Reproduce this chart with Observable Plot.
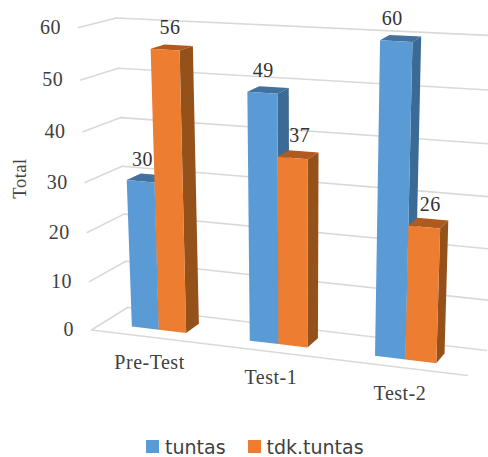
<!DOCTYPE html>
<html>
<head>
<meta charset="utf-8">
<script src="https://cdn.jsdelivr.net/npm/d3@7"></script>
<script src="https://cdn.jsdelivr.net/npm/@observablehq/plot@0.6"></script>
<style>
  html, body { margin: 0; padding: 0; background: #fff; }
  #chart svg { display: block; }
  #chart svg text { letter-spacing: 0.5px; }
  #legend { display: flex; height: 21px; padding-left: 146px; font: 19px "DejaVu Sans", sans-serif; color: #404040; }
  #legend .item { display: flex; align-items: center; margin-right: 22px; }
  #legend .swatch { width: 13px; height: 13px; margin-right: 6px; }
</style>
</head>
<body>
<div id="chart"></div>
<div id="legend"></div>
<script>
// Chart values
const categories = ["Pre-Test", "Test-1", "Test-2"];
const seriesNames = ["tuntas", "tdk.tuntas"];
const tuntas = [30, 49, 60];
const tdkTuntas = [56, 37, 26];
const yTicks = [0, 10, 20, 30, 40, 50, 60];

// Face colours per series: front, side, top
const faceColors = {
  "tuntas": ["#5b9bd5", "#3c6a96", "#41719c"],
  "tdk.tuntas": ["#ed7d31", "#94511a", "#b15a1f"]
};

// Nudges that keep value labels clear of neighbouring bars, [series][category]
const labelNudge = [[2, 1, -4], [5, 7, 6]];

// Perspective box: screen position of each corner, keyed by [right][back][top]
const box = {
  "000": [91, 329.5], "001": [78, 27],
  "010": [127, 307],  "011": [116, 17.5],
  "100": [467, 375],  "101": [478.5, 50],
  "110": [486, 350],  "111": [497, 35.3]
};
const maxValue = 60;
const depthFront = 0.315, depthBack = 0.71;
const barWidth = 0.078;
const groupShift = -0.0035;

const foreshorten = (t, k) => t / (1 + k * (1 - t));
const mix = (a, b, t) => a + (b - a) * t;

// Maps category position, depth and value into the drawing plane
function project(u, d, v) {
  const a = foreshorten(u, 0.096);
  const c = foreshorten(v / maxValue, 0.05);
  const at = (axis) => {
    const corner = (r, b, t) => box[`${r}${b}${t}`][axis];
    const bottom = mix(mix(corner(0, 0, 0), corner(1, 0, 0), a), mix(corner(0, 1, 0), corner(1, 1, 0), a), d);
    const top = mix(mix(corner(0, 0, 1), corner(1, 0, 1), a), mix(corner(0, 1, 1), corner(1, 1, 1), a), d);
    return mix(bottom, top, c);
  };
  return [at(0), at(1)];
}

// Grid: side wall, back wall and the front edge of the floor
const gridLines = [];
yTicks.forEach((v) => {
  [[0, 0, 0, 1], [0, 1, 1, 1]].forEach(([u0, d0, u1, d1], i) => {
    const id = `${v}-${i}`;
    gridLines.push({ id, p: project(u0, d0, v) }, { id, p: project(u1, d1, v) });
  });
});
gridLines.push({ id: "floor", p: project(0, 0, 0) }, { id: "floor", p: project(1, 0, 0) });

// Bars: every bar contributes top, side and front polygons
const faces = [];
const valueLabels = [];
categories.forEach((cat, ci) => {
  const centre = (ci + 0.5) / categories.length + groupShift;
  [tuntas, tdkTuntas].forEach((values, si) => {
    const value = values[ci];
    const name = seriesNames[si];
    const [front, side, top] = faceColors[name];
    const u0 = centre + (si - 1) * barWidth;
    const u1 = u0 + barWidth;
    const addFace = (kind, color, corners) =>
      corners.forEach((c) => faces.push({ id: `${cat}-${name}-${kind}`, color, p: project(...c) }));
    addFace("top", top, [[u0, depthFront, value], [u1, depthFront, value], [u1, depthBack, value], [u0, depthBack, value]]);
    addFace("side", side, [[u1, depthFront, 0], [u1, depthBack, 0], [u1, depthBack, value], [u1, depthFront, value]]);
    addFace("front", front, [[u0, depthFront, 0], [u1, depthFront, 0], [u1, depthFront, value], [u0, depthFront, value]]);
    valueLabels.push({ value, nudge: labelNudge[si][ci], p: project(u0 + barWidth / 2, depthFront, value) });
  });
});

const serif = "'Liberation Serif', serif";
const textColor = "#404040";

const chart = Plot.plot({
  width: 488,
  height: 436,
  margin: 0,
  x: { domain: [0, 488], range: [0, 488], axis: null },
  y: { domain: [0, 436], range: [0, 436], axis: null },
  color: { type: "identity" },
  marks: [
    Plot.line(gridLines, { x: (d) => d.p[0], y: (d) => d.p[1], z: "id", stroke: "#d9d9d9", strokeWidth: 1.6 }),
    Plot.line(faces, { x: (d) => d.p[0], y: (d) => d.p[1], z: "id", fill: "color", stroke: "none" }),
    Plot.text(yTicks, {
      x: (v) => project(0, 0, v)[0],
      y: (v) => project(0, 0, v)[1],
      text: (v) => String(v),
      dx: -17.5,
      textAnchor: "end",
      fontFamily: serif,
      fontSize: 20,
      fill: textColor
    }),
    Plot.text(categories, {
      x: (c, i) => project((i + 0.5) / categories.length, 0, 0)[0],
      y: (c, i) => project((i + 0.5) / categories.length, 0, 0)[1],
      text: (c) => c,
      dy: 26,
      fontFamily: serif,
      fontSize: 20,
      fill: textColor
    }),
    Plot.text(valueLabels, {
      x: (d) => d.p[0] + d.nudge,
      y: (d) => d.p[1],
      text: (d) => String(d.value),
      dy: -22,
      fontFamily: serif,
      fontSize: 20,
      fill: "#333333"
    }),
    Plot.text(["Total"], {
      x: () => 20,
      y: () => 178,
      text: (d) => d,
      rotate: -90,
      fontFamily: serif,
      fontSize: 18.5,
      fill: textColor
    })
  ]
});
document.getElementById("chart").append(chart);

// Legend placed beneath the drawing
const legend = d3.select("#legend");
seriesNames.forEach((name) => {
  const item = legend.append("div").attr("class", "item");
  item.append("div").attr("class", "swatch").style("background", faceColors[name][0]);
  item.append("span").text(name);
});
</script>
</body>
</html>
